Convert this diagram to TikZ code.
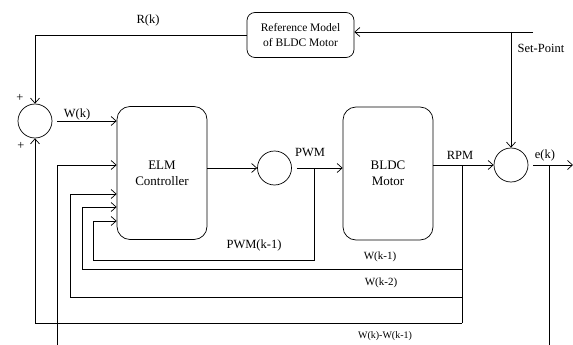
\documentclass[tikz,border=0pt]{standalone}
\usepackage{fontspec}
\setmainfont{Liberation Serif}
\usetikzlibrary{arrows.meta}
\begin{document}
\begin{tikzpicture}[x=1pt,y=-1pt,
  line width=0.7pt,
  arr/.style={-{Straight Barb[length=5pt,width=9pt]}},
  blk/.style={draw, rounded corners=13pt, minimum width=90pt, minimum height=133pt, align=center, font=\fontsize{13}{16}\selectfont, inner sep=0pt},
  sumc/.style={draw, circle, minimum size=34pt, inner sep=0pt},
  lbl/.style={font=\fontsize{12.5}{14}\selectfont, inner sep=0pt},
  slbl/.style={font=\fontsize{11}{13}\selectfont, inner sep=0pt}
]
\useasboundingbox (0,0) rectangle (573,345);
% blocks
\node[draw, rounded corners=8pt, minimum width=107pt, minimum height=45pt, align=center,
      font=\fontsize{11.5}{15}\selectfont, inner sep=0pt] (ref) at (300.5,35) {Reference Model\\of BLDC Motor};
\node[sumc] (s1) at (35,121) {};
\node[blk] (elm) at (162,173) {ELM\\Controller};
\node[sumc] (pc) at (274.5,168) {};
\node[blk] (bldc) at (388,173.5) {BLDC\\Motor};
\node[sumc] (s2) at (511,165) {};
% coordinates
\coordinate (sp) at (533,32);
\coordinate (spt) at (511,32);
\coordinate (t1) at (314,168);
\coordinate (p1) at (314,260);
\coordinate (p2) at (93,260);
\coordinate (p3) at (93,221);
\coordinate (t2) at (462,165);
\coordinate (q1) at (462,269);
\coordinate (q2) at (82,269);
\coordinate (q3) at (82,207);
\coordinate (r1) at (462,297);
\coordinate (r2) at (70,297);
\coordinate (r3) at (70,194);
\coordinate (b1) at (462,323);
\coordinate (eout) at (573,165);
\coordinate (t3) at (549,165);
\coordinate (t3b) at (549,345);
\coordinate (u1) at (57,345);
\coordinate (u2) at (57,165);
% connectors
\draw[arr] (sp) -- (ref.east |- sp);
\draw[arr] (spt) -- (s2.north);
\draw[arr] (ref.west) -| (s1.north);
\draw[arr] ([xshift=5pt]s1.east) -- (s1.east -| elm.west);
\draw[arr] (pc.west -| elm.east) -- (pc.west);
\draw[arr] ([xshift=5pt]pc.east) -- (pc.east -| bldc.west);
\draw[arr] (t1) -- (p1) -- (p2) -- (p3) -- (p3 -| elm.west);
\draw[arr] (bldc.east |- s2.west) -- (s2.west);
\draw (t2) -- (b1);
\draw[arr] (q1) -- (q2) -- (q3) -- (q3 -| elm.west);
\draw[arr] (r1) -- (r2) -- (r3) -- (r3 -| elm.west);
\draw[arr] (b1) -- (s1.south |- b1) -- (s1.south);
\draw[arr] ([xshift=5pt]s2.east) -- (eout);
\draw (t3) -- (t3b);
\draw[arr] (u1) -- (u2) -- (u2 -| elm.west);
% labels
\node[lbl] (lr) at (148,20) {R(k)};
\node[lbl] (lw) at (77,114) {W(k)};
\node[lbl] (lpwm) at (310,153) {PWM};
\node[lbl] (lrpm) at (460,155) {RPM};
\node[lbl] (le) at (545,155) {e(k)};
\node[lbl] (lsp) at (541,48) {Set-Point};
\node[lbl] (lpk) at (254,245) {PWM(k-1)};
\node[slbl] (lw1) at (380,257) {W(k-1)};
\node[slbl] (lw2) at (381,283) {W(k-2)};
\node[font=\fontsize{10}{12}\selectfont, inner sep=0pt] (lw3) at (385,336) {W(k)-W(k-1)};
\node[lbl] (pl1) at (20,98) {+};
\node[lbl] (pl2) at (21,146) {+};
\end{tikzpicture}
\end{document}
